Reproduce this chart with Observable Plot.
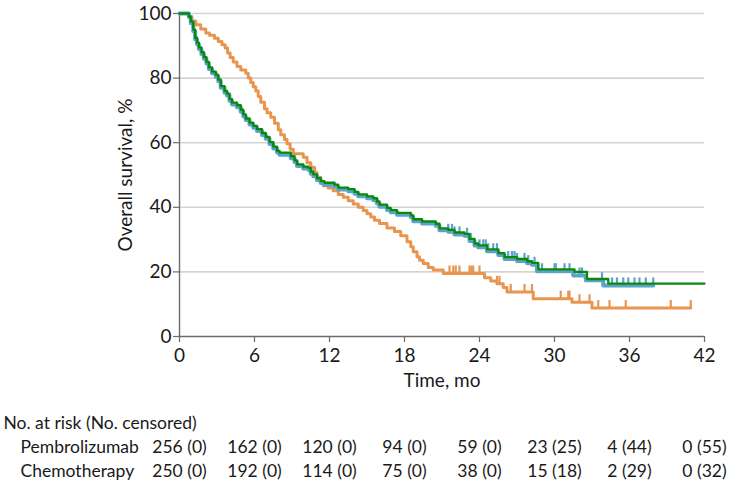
<!DOCTYPE html>
<html>
<head>
<meta charset="utf-8">
<script src="https://cdn.jsdelivr.net/npm/d3@7"></script>
<script src="https://cdn.jsdelivr.net/npm/@observablehq/plot@0.6"></script>
<style>
  html, body { margin: 0; padding: 0; background: #fff; }
  svg { display: block; }
</style>
</head>
<body>
<div id="chart"></div>
<script>
// ---- Data ----
const xTicks = [0, 6, 12, 18, 24, 30, 36, 42];
const yTicks = [0, 20, 40, 60, 80, 100];
const yGrid = [20, 40, 60, 80, 100];

// Pembrolizumab (blue) KM steps: time (mo), survival (%)
const pembroTime = [0,0.75,0.9,1.1,1.25,1.4,1.55,1.75,1.95,2.15,2.35,2.6,2.9,3.1,3.3,3.6,3.8,4.0,4.2,4.6,4.9,5.1,5.3,5.6,5.9,6.2,6.6,6.9,7.2,7.5,7.8,8.0,8.9,9.2,9.4,9.9,10.3,10.5,10.7,11.0,11.3,11.6,12.4,12.7,13.5,14.0,14.3,15.0,15.5,15.8,16.0,16.6,16.9,17.4,18.5,18.7,19.4,20.5,20.8,21.5,22.0,22.8,23.2,23.6,23.9,24.6,25.5,26.0,27.0,27.8,28.2,28.6,31.5,32.5,33.9,37.9];
const pembroSurv = [100,99,97,94.5,92,90.5,89,87.5,86,84.5,82.8,81.5,80.4,79,77,75.5,74.6,73,71.8,71,69.6,68.2,67,65.6,64.6,63.6,62.4,61.2,59.6,58.2,57,56.3,55.2,54,52.8,52,51.6,50.4,49.6,48.4,47.5,47,46.4,45.5,45,44.2,43.4,42.8,42.2,41.2,40.2,39.2,38.5,37.7,36.9,35.7,35,34.3,32.9,32.4,31.6,31.2,29.6,28.2,27.6,26.4,25.2,24,23.4,22.7,22.2,20.2,18.9,17.4,15.8,15.8];
const pembroCensor = [21.5,21.8,22.0,22.4,23.0,23.3,24.0,24.3,24.5,24.7,25.1,25.4,26.3,26.6,26.8,27.0,27.6,27.9,28.4,28.7,29.0,30.0,30.1,30.8,31.2,32.0,32.2,33.8,34.6,35.0,35.5,35.9,36.4,36.8,37.3,37.9];

// Overlay (green) steps
const overlayTime = [0,0.75,0.9,1.1,1.25,1.4,1.55,1.75,1.95,2.15,2.35,2.6,2.9,3.1,3.3,3.6,3.8,4.0,4.2,4.6,4.9,5.1,5.3,5.6,5.9,6.2,6.6,6.9,7.2,7.5,7.8,8.0,8.9,9.2,9.4,9.9,10.3,10.5,10.7,11.0,11.3,11.6,12.4,12.7,13.5,14.0,14.3,15.0,15.5,15.8,16.0,16.6,16.9,17.4,18.5,18.7,19.4,20.5,20.8,21.5,22.0,22.8,23.2,23.6,23.9,24.6,25.5,26.0,27.0,27.8,28.2,28.7,31.6,32.6,34.3,42];
const overlaySurv = [100,99,97.5,95,92.5,91,89.5,88,86.5,85,83.3,82,81,79.5,77.5,76,75.2,73.5,72.4,71.6,70.2,68.8,67.5,66.2,65.2,64.2,63,61.8,60.2,58.8,57.5,56.9,55.8,54.5,53.3,52.6,52.2,51,50.2,49,48.1,47.6,47,46.1,45.6,44.8,44,43.4,42.8,41.8,40.8,39.8,39.1,38.3,37.5,36.3,35.6,34.9,33.5,33,32.2,31.8,30.2,28.8,28.2,27,25.8,24.6,24,23.3,22.8,20.8,20,17.8,16.4,16.4];

// Chemotherapy (orange) steps
const chemoTime = [0,0.75,1.0,1.3,1.7,2.1,2.4,2.8,3.1,3.4,3.65,3.85,4.05,4.3,4.6,4.9,5.3,5.5,5.7,5.9,6.1,6.3,6.5,6.8,7.0,7.3,7.6,7.9,8.1,8.4,8.6,8.85,9.1,9.9,10.2,10.5,10.8,11.0,11.3,11.5,11.9,12.3,12.7,13.1,13.5,13.9,14.3,14.7,15.0,15.3,15.6,16.0,16.6,17.2,17.7,18.2,18.5,18.7,19.0,19.2,19.5,19.9,20.3,21.1,24.4,24.9,25.4,25.9,26.2,28.3,31.4,33.0,40.9];
const chemoSurv = [100,99,97.7,96.5,95.2,94,93.3,92.3,91.3,90.3,89.3,87.8,86.4,85,83.6,82.5,81.5,80,78.6,77.3,76,74.3,72.5,70.5,69.3,67.9,66,64,62.5,61,59.7,58,56.6,55.5,53.8,52.4,50.8,49.3,48,46.7,46,45.1,44,43.1,42,41,40,39,38,37,36,35,33.6,32.5,31.2,29.3,27.8,26.2,24.7,23.6,22.6,21.4,20.6,19.5,18.2,17.2,16.3,15.2,13.8,11.7,10.6,8.8,8.8];
const chemoCensor = [21.6,21.9,22.1,22.4,23.2,23.35,23.5,24.0,25.4,25.6,26.5,27.6,28.2,30.5,31.1,31.2,32.0,32.8,33.5,34.4,35.7,39.3,40.9];

// Risk table
const riskRows = ["Pembrolizumab", "Chemotherapy"];
const riskHeader = "No. at risk (No. censored)";
const pembroRisk = ["256 (0)", "162 (0)", "120 (0)", "94 (0)", "59 (0)", "23 (25)", "4 (44)", "0 (55)"];
const chemoRisk = ["250 (0)", "192 (0)", "114 (0)", "75 (0)", "38 (0)", "15 (18)", "2 (29)", "0 (32)"];

// ---- Styles ----
const FONT = "Lato, 'Open Sans', sans-serif";
const TEXT = "#1a1a1a";
const AXIS = "#6b6b6b";
const C_CHEMO = "#E8964F";
const C_PEMBRO = "#5BA3CB";
const C_OVER = "#0A8A0A";
const FS_AXIS = 19;
const FS_TABLE = 17.5;

// ---- Build tables ----
const steps = (ts, ss) => ts.map((t, i) => ({t, s: ss[i]}));
const pembro = steps(pembroTime, pembroSurv);
const overlay = steps(overlayTime, overlaySurv);
const chemo = steps(chemoTime, chemoSurv);
const survAt = (data, t) => { let v = data[0].s; for (const d of data) { if (d.t <= t + 1e-9) v = d.s; } return v; };
const pembroMarks = pembroCensor.map(t => ({t, s: survAt(pembro, t)}));
const chemoMarks = chemoCensor.map(t => ({t, s: survAt(chemo, t)}));

const tickUp = { draw(context, size) { const h = 2 * Math.sqrt(size / Math.PI); context.moveTo(0, 0); context.lineTo(0, -h); } };

const W = 741;
const main = Plot.plot({
  width: W, height: 395,
  marginLeft: 179, marginRight: 37, marginTop: 13, marginBottom: 59,
  style: { fontFamily: FONT, fontSize: FS_AXIS + "px", color: TEXT, background: "#fff" },
  x: { domain: [0, 42], ticks: xTicks, label: null },
  y: { domain: [0, 100], ticks: yTicks, label: null },
  marks: [
    Plot.gridY(yGrid, { stroke: "#d4d4d4", strokeOpacity: 1, strokeWidth: 1.6 }),
    Plot.axisX(xTicks, { tickSize: 6, tickPadding: 6, stroke: AXIS, fill: TEXT, label: null, strokeWidth: 1.2, fontSize: FS_AXIS }),
    Plot.axisY(yTicks, { tickSize: 6, tickPadding: 2, stroke: AXIS, fill: TEXT, label: null, strokeWidth: 1.2, fontSize: FS_AXIS }),
    Plot.ruleX([0], { stroke: AXIS, strokeWidth: 1.4 }),
    Plot.ruleY([0], { stroke: AXIS, strokeWidth: 1.4 }),
    Plot.dot(chemoMarks, { x: "t", y: "s", symbol: tickUp, r: 4, stroke: C_CHEMO, strokeWidth: 2.2, fill: "none" }),
    Plot.line(chemo, { x: "t", y: "s", curve: "step-after", stroke: C_CHEMO, strokeWidth: 3 }),
    Plot.dot(pembroMarks, { x: "t", y: "s", symbol: tickUp, r: 4, stroke: C_PEMBRO, strokeWidth: 2.2, fill: "none" }),
    Plot.line(pembro, { x: "t", y: "s", curve: "step-after", stroke: C_PEMBRO, strokeWidth: 4 }),
    Plot.line(overlay, { x: "t", y: "s", curve: "step-after", stroke: C_OVER, strokeWidth: 2.3 }),
    Plot.text(["Time, mo"], { text: d => d, frameAnchor: "bottom", textAnchor: "middle", lineAnchor: "middle", dy: 44, fill: TEXT, fontSize: FS_AXIS }),
    Plot.text(["Overall survival, %"], { text: d => d, frameAnchor: "left", textAnchor: "middle", lineAnchor: "middle", rotate: -90, dx: -54, fill: TEXT, fontSize: FS_AXIS })
  ]
});

const tableRows = [];
xTicks.forEach((t, i) => {
  tableRows.push({t, row: riskRows[0], v: pembroRisk[i]});
  tableRows.push({t, row: riskRows[1], v: chemoRisk[i]});
});

const table = Plot.plot({
  width: W, height: 95,
  marginLeft: 179, marginRight: 37, marginTop: 0, marginBottom: 0,
  style: { fontFamily: FONT, fontSize: FS_TABLE + "px", color: TEXT, background: "#fff" },
  x: { domain: [0, 42], axis: null },
  y: { type: "point", domain: ["header", ...riskRows], range: [27.4, 76.4], padding: 0, axis: null },
  marks: [
    Plot.text([riskHeader], { text: d => d, y: () => "header", frameAnchor: "left", textAnchor: "start", lineAnchor: "middle", dx: -176, fill: TEXT, fontSize: FS_TABLE }),
    Plot.text(riskRows, { text: d => d, y: d => d, frameAnchor: "left", textAnchor: "start", lineAnchor: "middle", dx: -159, fill: TEXT, fontSize: FS_TABLE }),
    Plot.text(tableRows, { x: "t", y: "row", text: "v", textAnchor: "middle", lineAnchor: "middle", fill: TEXT, fontSize: FS_TABLE })
  ]
});

document.getElementById("chart").append(main, table);
</script>
</body>
</html>
